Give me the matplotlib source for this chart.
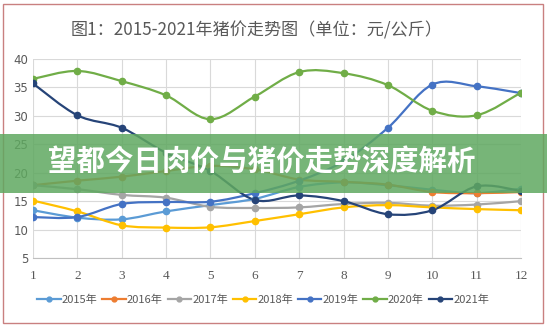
import numpy as np
import matplotlib
matplotlib.use("Agg")
from matplotlib import pyplot as plt
from matplotlib.path import Path
from matplotlib.patches import PathPatch, Rectangle
from matplotlib.lines import Line2D

plt.rcParams['font.family'] = ['Noto Sans CJK SC', 'DejaVu Sans']

months = list(range(1, 13))
years = ['2015年', '2016年', '2017年', '2018年', '2019年', '2020年', '2021年']
colors = ['#5B9BD5', '#ED7D31', '#A5A5A5', '#FFC000', '#4472C4', '#70AD47', '#264478']

p2015 = [13.4, 12.1, 11.8, 13.2, 14.3, 15.4, 17.5, 18.3, 17.8, 17.0, 16.4, 17.2]
p2016 = [17.8, 18.6, 19.3, 20.3, 21.2, 20.6, 18.8, 18.4, 17.9, 16.6, 16.4, 16.6]
p2017 = [17.8, 17.1, 16.1, 15.6, 14.0, 13.8, 13.9, 14.5, 14.7, 14.2, 14.4, 15.0]
p2018 = [15.1, 13.2, 10.75, 10.35, 10.4, 11.5, 12.7, 13.9, 14.3, 13.9, 13.6, 13.4]
p2019 = [12.2, 12.2, 14.5, 14.85, 14.9, 16.4, 18.6, 22.0, 27.9, 35.5, 35.2, 34.0]
p2020 = [36.5, 37.9, 36.1, 33.6, 29.4, 33.4, 37.7, 37.5, 35.4, 30.9, 30.1, 34.1]
p2021 = [35.7, 30.1, 27.9, 23.5, 20.3, 15.2, 16.0, 15.0, 12.7, 13.4, 17.6, 16.8]
series = [p2015, p2016, p2017, p2018, p2019, p2020, p2021]

title = '图1：2015-2021年猪价走势图（单位：元/公斤）'
banner = '望都今日肉价与猪价走势深度解析'


def smooth_path(xs, ys):
    # cubic bezier through every point, like a spreadsheet "smoothed line"
    pts = np.column_stack([xs, ys]).astype(float)
    n = len(pts)
    verts = [pts[0]]
    codes = [Path.MOVETO]
    for i in range(n - 1):
        p0 = pts[max(i - 1, 0)]
        p1 = pts[i]
        p2 = pts[i + 1]
        p3 = pts[min(i + 2, n - 1)]
        c1 = p1 + (p2 - p0) / 6.0
        c2 = p2 - (p3 - p1) / 6.0
        verts += [c1, c2, p2]
        codes += [Path.CURVE4] * 3
    return Path(verts, codes)


fig = plt.figure(figsize=(5.47, 3.26), dpi=100)
ax = fig.add_axes([0.0603, 0.2086, 0.8922, 0.6104])

for vals, col in zip(series, colors):
    ax.add_patch(PathPatch(smooth_path(months, vals), facecolor='none',
                           edgecolor=col, lw=1.6, zorder=3, capstyle='round'))
    ax.plot(months, vals, ls='none', marker='o', ms=4.5, color=col, zorder=4)

ax.set_xlim(1, 12)
ax.set_ylim(5, 40)
ax.set_xticks(months)
ax.set_yticks(range(5, 41, 5))
ax.grid(True, color='#d9d9d9', lw=0.8)
ax.set_axisbelow(True)
for side in ['top', 'right', 'left']:
    ax.spines[side].set_visible(False)
ax.spines['bottom'].set_color('#bfbfbf')
ax.tick_params(length=0, colors='#595959', labelsize=8.5)
ax.tick_params(axis='x', pad=9)
for lab in ax.get_xticklabels():
    lab.set_fontfamily('Liberation Serif')
    lab.set_fontsize(9.5)
for lab in ax.get_yticklabels():
    lab.set_fontfamily('DejaVu Sans')

fig.text(0.47, 0.908, title, ha='center', va='center', fontsize=12.3, color='#595959')

handles = [Line2D([], [], color=c, lw=1.6, marker='o', ms=3.5) for c in colors]
fig.legend(handles, years, loc='center', bbox_to_anchor=(0.481, 0.08), ncol=7,
           frameon=False, fontsize=8, handlelength=2.1, handletextpad=0.1,
           columnspacing=0.45, labelcolor='#595959')

# outer frame
fig.add_artist(Rectangle((3 / 547, 3 / 326), 540 / 547, 319 / 326, transform=fig.transFigure,
                         facecolor='none', edgecolor='#c98080', lw=1.0))

# headline band across the middle
fig.add_artist(Rectangle((0, 1 - 193 / 326), 1, 59 / 326, transform=fig.transFigure,
                         facecolor='#5fa860', edgecolor='none', alpha=0.85, zorder=10))
fig.text(0.478, 1 - 163 / 326, banner, ha='center', va='center', fontsize=20.5,
         fontweight='bold', color='white', zorder=11)

fig.savefig('out.png', dpi=100, facecolor='white')
